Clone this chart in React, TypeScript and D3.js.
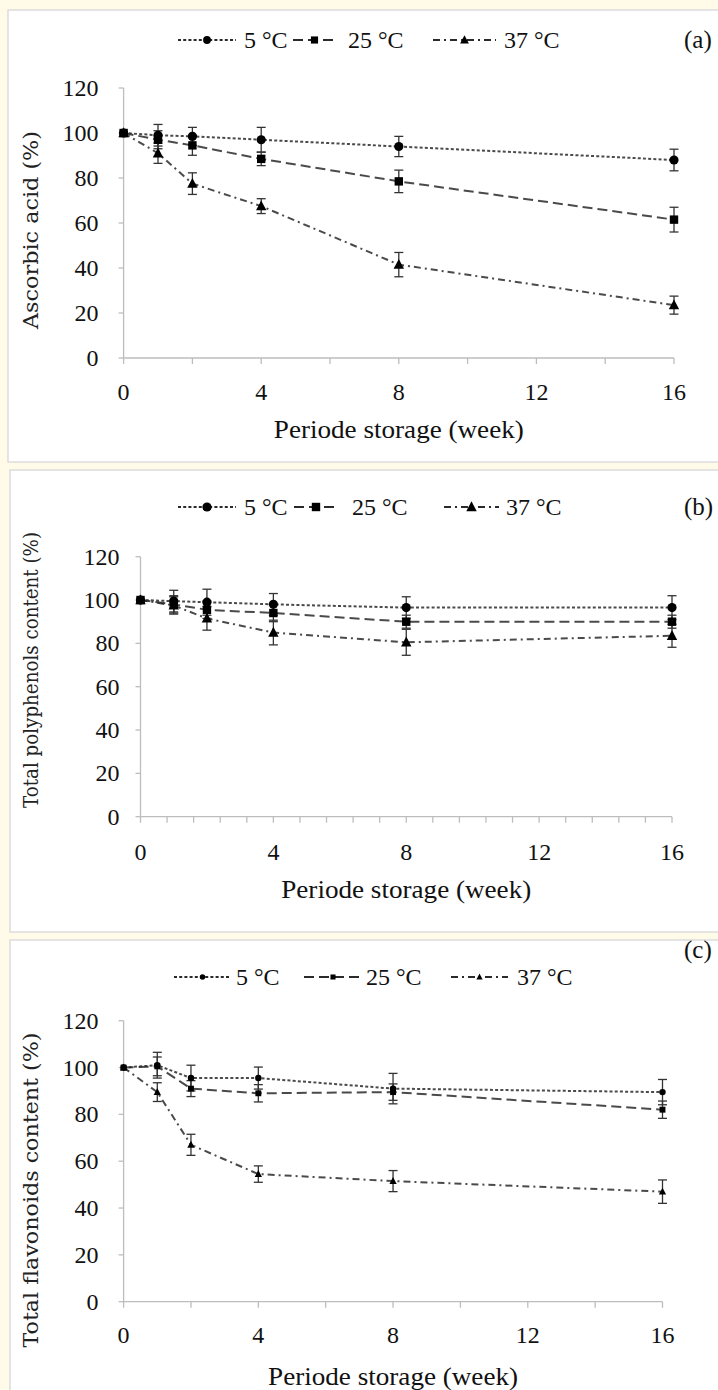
import React from 'react';
import * as d3 from 'd3';

// ---------- data ----------
const weeks = [0, 1, 2, 4, 8, 16];
const seriesNames = ['5 °C', '25 °C', '37 °C'];
const yTicks = [0, 20, 40, 60, 80, 100, 120];
const xTickLabels = [0, 4, 8, 12, 16];

const ascorbic5 = [100, 99, 98.5, 97, 94, 88];
const ascorbic5Err = [0, 4.8, 4, 5.5, 4.5, 4.8];
const ascorbic25 = [100, 97, 94.5, 88.5, 78.5, 61.5];
const ascorbic25Err = [0, 4, 4.4, 3, 5, 5.5];
const ascorbic37 = [100, 91, 77.5, 67.5, 41.5, 23.5];
const ascorbic37Err = [0, 4.5, 4.8, 3.3, 5.4, 4];

const poly5 = [100, 99.5, 99, 98, 96.5, 96.5];
const poly5Err = [0, 5, 6, 5, 5, 5.5];
const poly25 = [100, 98, 95.5, 94, 90, 90];
const poly25Err = [0, 4, 4, 4, 3, 3];
const poly37 = [100, 97.5, 91.5, 85, 80.5, 83.5];
const poly37Err = [0, 4, 5.4, 5.7, 6, 5.3];

const flav5 = [100, 101, 95.5, 95.5, 91, 89.5];
const flav5Err = [0, 5.5, 5.5, 4.7, 6.5, 5.4];
const flav25 = [100, 100.5, 91, 89, 89.5, 82];
const flav25Err = [0, 4, 3.4, 3.7, 3.5, 3.7];
const flav37 = [100, 89.5, 67, 54.5, 51.5, 47];
const flav37Err = [0, 4, 4.5, 3.5, 4.5, 5];

// ---------- layout ----------
const W = 718;
const H = 1390;
const FONT = '"Liberation Serif", "Times New Roman", serif';
const YFONT = '"DejaVu Serif", "Liberation Serif", serif';
const LINE_COLOR = '#2a2a2a';
const AXIS_COLOR = '#bdbdbd';
const dashes = ['3,2.2', '10,5', '7,4,2,4'];
const kinds = ['circle', 'square', 'triangle'];

type PanelCfg = {
  box: [number, number, number, number];
  xr: [number, number];
  yr: [number, number];
  xMinor: number;
  tag: string;
  tagY: number;
  legendY: number;
  legend: [number, number, number][];
  ylabel: string;
  ylabelX: number;
  ylabelY: number;
  ylabelLen: number;
  xlabelY: number;
  xlabelLen: number;
  tickLabelGap: number;
  xTickY: number;
  markerScale: number;
  legendMarkerScale: number;
  values: number[][];
  errs: number[][];
};

const panels: PanelCfg[] = [
  {
    box: [8, 10, 730, 462],
    xr: [123.6, 674],
    yr: [358, 88],
    xMinor: 2,
    tag: '(a)',
    tagY: 40,
    legendY: 40,
    legend: [[178, 236, 244], [293, 336, 348], [433, 496, 504]],
    ylabel: 'Ascorbic  acid  (%)',
    ylabelX: 38,
    ylabelY: 230,
    ylabelLen: 198,
    xlabelY: 430,
    xlabelLen: 250,
    tickLabelGap: 25,
    xTickY: 392,
    markerScale: 1,
    legendMarkerScale: 0.85,
    values: [ascorbic5, ascorbic25, ascorbic37],
    errs: [ascorbic5Err, ascorbic25Err, ascorbic37Err],
  },
  {
    box: [10, 470, 730, 932],
    xr: [140.5, 672],
    yr: [816.7, 556.7],
    xMinor: 0.8,
    tag: '(b)',
    tagY: 507,
    legendY: 507,
    legend: [[178, 236, 244], [294, 338, 352], [444, 499, 506]],
    ylabel: 'Total  polyphenols  content  (%)',
    ylabelX: 38,
    ylabelY: 670,
    ylabelLen: 276,
    xlabelY: 890,
    xlabelLen: 250,
    tickLabelGap: 21,
    xTickY: 852,
    markerScale: 1,
    legendMarkerScale: 1,
    values: [poly5, poly25, poly37],
    errs: [poly5Err, poly25Err, poly37Err],
  },
  {
    box: [10, 940, 730, 1400],
    xr: [123.6, 662.5],
    yr: [1301.7, 1020.7],
    xMinor: 2,
    tag: '(c)',
    tagY: 950,
    legendY: 977,
    legend: [[174, 231, 236], [304, 362, 366], [451, 508, 517]],
    ylabel: 'Total  flavonoids  content  (%)',
    ylabelX: 38,
    ylabelY: 1190,
    ylabelLen: 315,
    xlabelY: 1377,
    xlabelLen: 250,
    tickLabelGap: 25,
    xTickY: 1335,
    markerScale: 0.7,
    legendMarkerScale: 0.6,
    values: [flav5, flav25, flav37],
    errs: [flav5Err, flav25Err, flav37Err],
  },
];

function Marker({ kind, x, y, s }: { kind: string; x: number; y: number; s: number }) {
  if (kind === 'circle') return <circle cx={x} cy={y} r={4.6 * s} fill="#000" />;
  if (kind === 'square') {
    const h = 4.2 * s;
    return <rect x={x - h} y={y - h} width={2 * h} height={2 * h} fill="#000" />;
  }
  const h = 5.2 * s;
  return (
    <path
      d={`M${x},${y - h * 1.1} L${x + h},${y + h * 0.8} L${x - h},${y + h * 0.8} Z`}
      fill="#000"
    />
  );
}

function Panel({ p }: { p: PanelCfg }) {
  const x = d3.scaleLinear().domain([0, 16]).range(p.xr);
  const y = d3.scaleLinear().domain([0, 120]).range(p.yr);
  const line = d3
    .line<number>()
    .x((_, i) => x(weeks[i]))
    .y((v) => y(v));
  const minor = d3.range(0, 16 + 1e-6, p.xMinor);
  const [bx0, by0, bx1, by1] = p.box;
  return (
    <g>
      <rect x={bx0} y={by0} width={bx1 - bx0} height={by1 - by0} fill="#fff" stroke="#dcdcdc" strokeWidth={1.5} />
      {/* axes */}
      <line x1={p.xr[0]} x2={p.xr[0]} y1={p.yr[0]} y2={p.yr[1]} stroke={AXIS_COLOR} strokeWidth={1.3} />
      <line x1={p.xr[0]} x2={p.xr[1]} y1={p.yr[0]} y2={p.yr[0]} stroke={AXIS_COLOR} strokeWidth={1.3} />
      {yTicks.map((t) => (
        <g key={'yt' + t}>
          <line x1={p.xr[0] - 5} x2={p.xr[0]} y1={y(t)} y2={y(t)} stroke={AXIS_COLOR} strokeWidth={1.3} />
          <text x={p.xr[0] - p.tickLabelGap} y={y(t) + 8} textAnchor="end" fontSize={24} fontFamily={FONT} fill="#111">
            {t}
          </text>
        </g>
      ))}
      {minor.map((t, i) => (
        <line key={'xt' + i} x1={x(t)} x2={x(t)} y1={p.yr[0]} y2={p.yr[0] + 6} stroke={AXIS_COLOR} strokeWidth={1.3} />
      ))}
      {xTickLabels.map((t) => (
        <text key={'xl' + t} x={x(t)} y={p.xTickY + 8} textAnchor="middle" fontSize={24} fontFamily={FONT} fill="#111">
          {t}
        </text>
      ))}
      {/* axis titles */}
      <text
        x={(p.xr[0] + p.xr[1]) / 2}
        y={p.xlabelY + 8}
        textAnchor="middle"
        fontSize={25}
        fontFamily={FONT}
        fill="#111"
        textLength={p.xlabelLen}
        lengthAdjust="spacingAndGlyphs"
      >
        Periode storage (week)
      </text>
      <text
        transform={`translate(${p.ylabelX},${p.ylabelY}) rotate(-90)`}
        textAnchor="middle"
        fontSize={20}
        fontFamily={YFONT}
        fill="#222"
        textLength={p.ylabelLen}
        lengthAdjust="spacingAndGlyphs"
      >
        {p.ylabel}
      </text>
      {/* series lines */}
      {p.values.map((vals, si) => (
        <path key={'l' + si} d={line(vals) || ''} fill="none" stroke={LINE_COLOR} strokeWidth={2} strokeDasharray={dashes[si]} opacity={0.85} />
      ))}
      {/* error bars */}
      {p.values.map((vals, si) =>
        vals.map((v, i) => {
          const e = p.errs[si][i];
          if (!e) return null;
          const cx = x(weeks[i]);
          const top = y(v + e);
          const bot = y(v - e);
          return (
            <g key={'e' + si + '-' + i} stroke="#333" strokeWidth={1.3}>
              <line x1={cx} x2={cx} y1={top} y2={bot} />
              <line x1={cx - 4.5} x2={cx + 4.5} y1={top} y2={top} />
              <line x1={cx - 4.5} x2={cx + 4.5} y1={bot} y2={bot} />
            </g>
          );
        })
      )}
      {/* markers */}
      {p.values.map((vals, si) =>
        vals.map((v, i) => <Marker key={'m' + si + '-' + i} kind={kinds[si]} x={x(weeks[i])} y={y(v)} s={p.markerScale} />)
      )}
      {/* legend */}
      {p.legend.map(([l0, l1, tx], si) => (
        <g key={'lg' + si}>
          <line x1={l0} x2={l1} y1={p.legendY} y2={p.legendY} stroke={LINE_COLOR} strokeWidth={2} strokeDasharray={dashes[si]} />
          <Marker kind={kinds[si]} x={(l0 + l1) / 2} y={p.legendY} s={p.legendMarkerScale} />
          <text x={tx} y={p.legendY + 8} fontSize={24} fontFamily={FONT} fill="#111">
            {seriesNames[si]}
          </text>
        </g>
      ))}
      <text x={684} y={p.tagY + 8} fontSize={25} fontFamily={FONT} fill="#111">
        {p.tag}
      </text>
    </g>
  );
}

export default function App() {
  return (
    <svg width={W} height={H} style={{ position: 'absolute', left: 0, top: 0, display: 'block' }}>
      <rect x={0} y={0} width={W} height={H} fill="#fffbe8" />
      {panels.map((p, i) => (
        <Panel key={i} p={p} />
      ))}
    </svg>
  );
}
